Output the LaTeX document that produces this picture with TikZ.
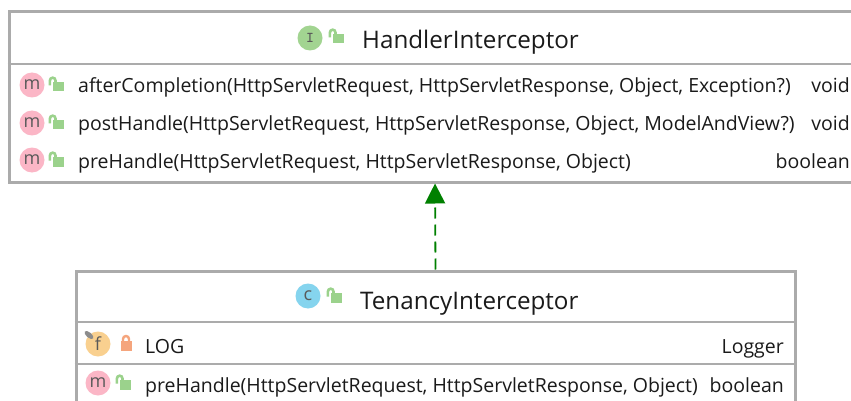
\documentclass[tikz,border=0pt]{standalone}
\usepackage{fontspec}
\setmainfont{Open Sans}
\usetikzlibrary{arrows.meta}
\definecolor{box border}{HTML}{ABABAB}
\definecolor{text dark}{HTML}{1A1A1A}
\definecolor{open lock}{HTML}{9BD28C}
\definecolor{closed lock}{HTML}{F5A57D}
\definecolor{icon method}{HTML}{FBB6C6}
\definecolor{icon field}{HTML}{F9D08F}
\definecolor{icon class}{HTML}{85D4EE}
\definecolor{icon interface}{HTML}{A2D491}
\definecolor{arrow green}{HTML}{008000}
\tikzset{
  umlbox/.style={draw=box border, line width=3pt, fill=white, inner sep=0pt},
  divider/.style={draw=box border, line width=2.4pt},
  title/.style={anchor=base, text=text dark, inner sep=0pt, font=\fontsize{24.2}{28}\selectfont},
  member/.style={anchor=base west, text=text dark, inner sep=0pt, font=\fontsize{19.5}{23}\selectfont},
  rettype/.style={member, anchor=base east},
  icon/.style={circle, minimum size=25pt, inner sep=0pt, text=black!65, font=\fontsize{18}{20}\selectfont},
  implements/.style={draw=arrow green, line width=1.8pt, dash pattern=on 11pt off 6pt,
    -{Triangle[length=20pt,width=20pt,fill=arrow green]}},
  pics/openlock/.style={code={
    \fill[open lock] (-4,-4) rectangle (7,5.5);
    \draw[open lock, line width=2.6pt] (-1.5,-3) -- (-1.5,-5.5) arc[start angle=0, end angle=180, radius=2.8pt] -- (-7.1,-0.5);
  }},
  pics/closedlock/.style={code={
    \fill[closed lock] (-5.5,-3) rectangle (5.5,6.5);
    \draw[closed lock, line width=2.4pt] (-3,-3) -- (-3,-5) arc[start angle=180, end angle=0, radius=3pt] -- (3,-3);
  }},
}
\begin{document}
\begin{tikzpicture}[x=1pt, y=-1pt]
  \useasboundingbox (0,0) rectangle (851,401);
  \clip (0,0) rectangle (851,401);
  % HandlerInterceptor
  \node[umlbox, minimum width=852pt, minimum height=170pt] (handler) at (435,97) {};
  \draw[divider] (handler.west |- 0,64) -- (handler.east |- 0,64);
  \node[icon, fill=icon interface, font=\ttfamily\bfseries\fontsize{15}{16}\selectfont] (handlerIcon) at (310,38) {I};
  \pic at (337,38) {openlock};
  \node[title, anchor=base west] (handlerName) at (362,49) {HandlerInterceptor};
  \foreach \y/\sig/\ret [count=\i] in {
    93/{afterCompletion(HttpServletRequest, HttpServletResponse, Object, Exception?)}/void,
    131/{postHandle(HttpServletRequest, HttpServletResponse, Object, ModelAndView?)}/void,
    168/{preHandle(HttpServletRequest, HttpServletResponse, Object)}/boolean
  } {
    \node[icon, fill=icon method] (handlerM\i) at (32,\y-8) {m};
    \pic at (57,\y-7) {openlock};
    \node[member] (handlerSig\i) at (78,\y) {\sig};
    \node[rettype] (handlerRet\i) at (850,\y) {\ret};
  }
  % TenancyInterceptor
  \node[umlbox, minimum width=719pt, minimum height=139pt] (tenancy) at (435.5,340.5) {};
  \draw[divider] (tenancy.west |- 0,322) -- (tenancy.east |- 0,322);
  \draw[divider] (tenancy.west |- 0,364) -- (tenancy.east |- 0,364);
  \node[icon, fill=icon class] (tenancyIcon) at (308,296) {c};
  \pic at (335,297) {openlock};
  \node[title, anchor=base west] (tenancyName) at (360,309) {TenancyInterceptor};
  \node[icon, fill=icon field] (logIcon) at (98,344) {f};
  \fill[black!45, rotate around={-40:(89,335)}] (89,335) ellipse (5.5pt and 2.6pt);
  \pic at (126,344) {closedlock};
  \node[member] (logName) at (145,353) {LOG};
  \node[rettype] (logType) at (784,353) {Logger};
  \node[icon, fill=icon method] (tenancyM) at (98,383) {m};
  \pic at (124,384) {openlock};
  \node[member] (tenancySig) at (145,392) {preHandle(HttpServletRequest, HttpServletResponse, Object)};
  \node[rettype] (tenancyRet) at (784,392) {boolean};
  % realization
  \draw[implements] (tenancy.north) -- (handler.south);
\end{tikzpicture}
\end{document}
